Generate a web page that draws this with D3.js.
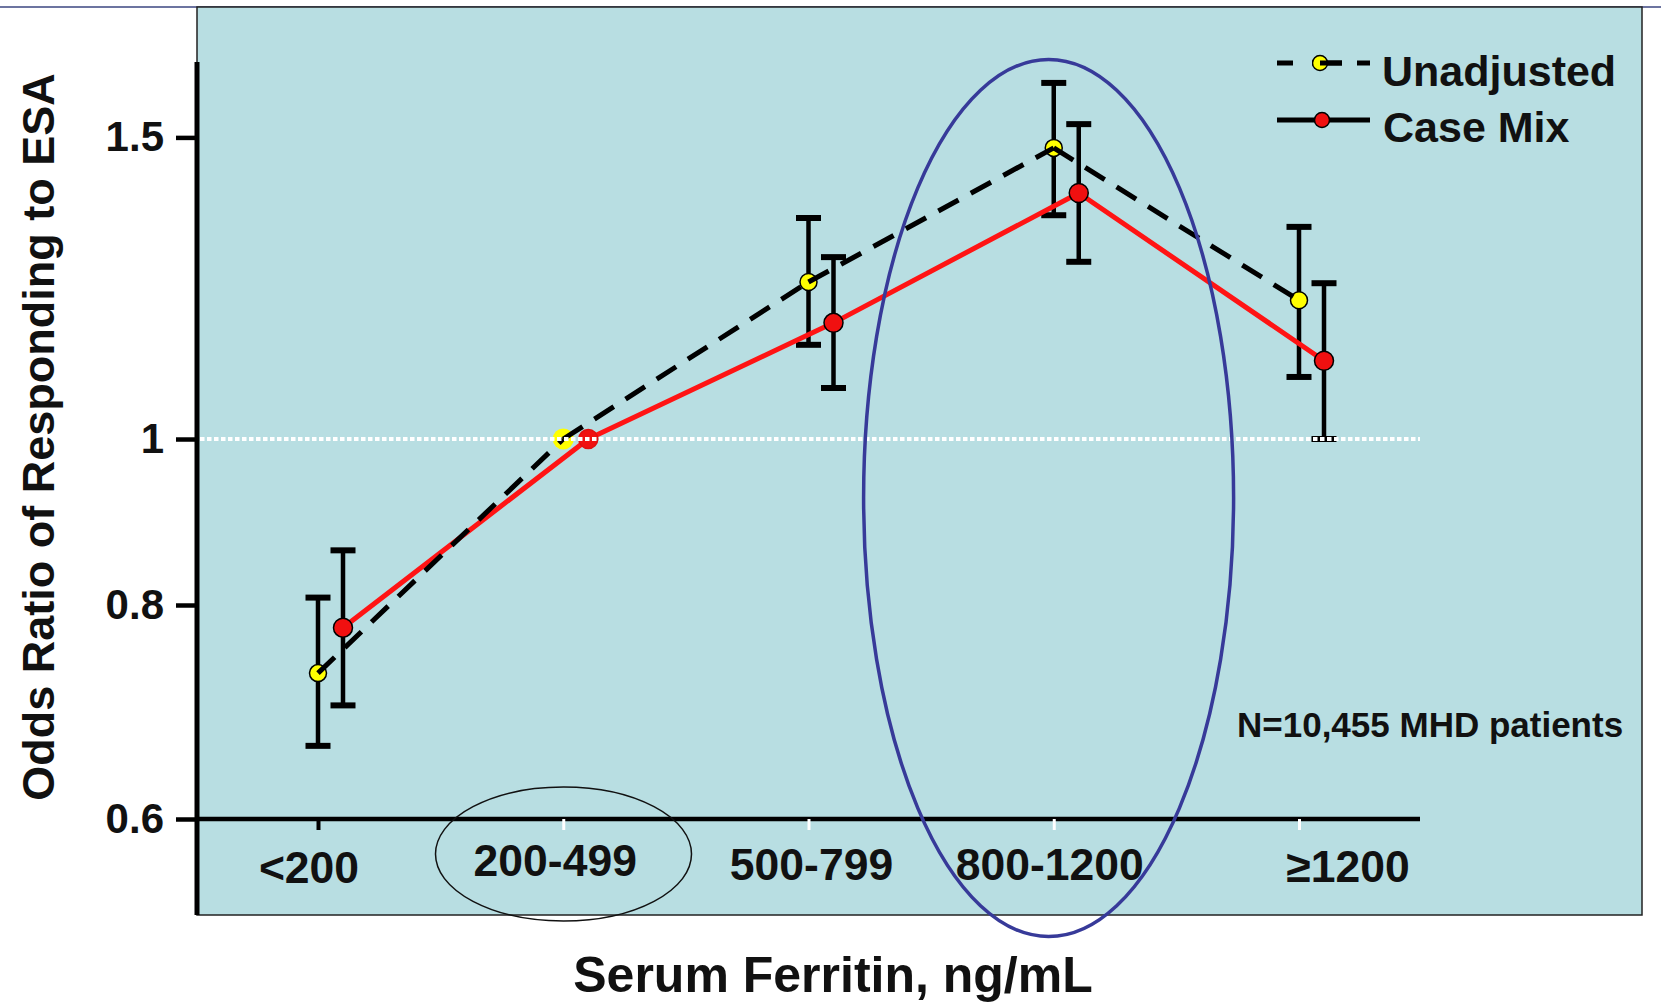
<!DOCTYPE html>
<html>
<head>
<meta charset="utf-8">
<script src="https://cdn.jsdelivr.net/npm/d3@7/dist/d3.min.js"></script>
<style>
  html, body { margin: 0; padding: 0; background: #ffffff; }
  svg { display: block; }
  text { font-family: "Liberation Sans", Arial, Helvetica, sans-serif; font-weight: bold; fill: #111; }
</style>
</head>
<body>
<svg id="chart" width="1661" height="1004"></svg>
<script>
// Ferritin categories and odds ratios (with 95% CI) for ESA response
const categories = ["<200", "200-499", "500-799", "800-1200", "\u22651200"];

const unadjusted     = [0.730, 1.000, 1.235, 1.479, 1.205];
const unadjustedLow  = [0.662, null,  1.135, 1.351, 1.087];
const unadjustedHigh = [0.808, null,  1.346, 1.614, 1.330];

const caseMix     = [0.776, 1.000, 1.169, 1.392, 1.111];
const caseMixLow  = [0.699, null,  1.071, 1.269, 1.000];
const caseMixHigh = [0.861, null,  1.277, 1.527, 1.233];

const referenceIndex = 1;           // 200-499 is the reference group (OR = 1)
const yTickValues = [0.6, 0.8, 1, 1.5];
const yTickLabels = ["0.6", "0.8", "1", "1.5"];

const svg = d3.select("#chart");

// Layout
const panel = { left: 197, top: 7, right: 1642, bottom: 915 };
const axisTop = 62;
const axisRight = 1420;
const panelFill = "#b8dee2";

const x = d3.scalePoint().domain(categories).range([318, 1299]);
const y = d3.scaleLog().domain([0.6, 1.5]).range([819, 137.4]);
const caseShift = 25;

// Top rule across the page
svg.append("line")
  .attr("x1", 0).attr("x2", 1661).attr("y1", panel.top).attr("y2", panel.top)
  .attr("stroke", "#3b4680").attr("stroke-width", 1.5);

// Plot panel
svg.append("rect")
  .attr("x", panel.left).attr("y", panel.top)
  .attr("width", panel.right - panel.left).attr("height", panel.bottom - panel.top)
  .attr("fill", panelFill).attr("stroke", "#222").attr("stroke-width", 1.5);

// Y axis (log scale)
const yAxis = svg.append("g")
  .attr("transform", `translate(${panel.left},0)`)
  .call(d3.axisLeft(y).tickValues(yTickValues)
    .tickFormat((d, i) => yTickLabels[i]).tickSize(21).tickPadding(12));
yAxis.select(".domain").remove();
yAxis.selectAll(".tick line").attr("stroke", "#000").attr("stroke-width", 4.5);
yAxis.selectAll(".tick text")
  .style("font-size", "42px").style("font-family", "'Liberation Sans', Arial, sans-serif")
  .style("font-weight", "bold").attr("fill", "#111");

svg.append("line")
  .attr("x1", panel.left).attr("x2", panel.left)
  .attr("y1", axisTop).attr("y2", panel.bottom)
  .attr("stroke", "#000").attr("stroke-width", 5);

// X axis at OR = 0.6
svg.append("line")
  .attr("x1", panel.left).attr("x2", axisRight)
  .attr("y1", y(0.6)).attr("y2", y(0.6))
  .attr("stroke", "#000").attr("stroke-width", 4.5);

const xAxis = svg.append("g")
  .attr("transform", `translate(0,${y(0.6)})`)
  .call(d3.axisBottom(x).tickSize(11).tickFormat(""));
xAxis.select(".domain").remove();
xAxis.selectAll(".tick line")
  .attr("stroke", (d, i) => i === 0 ? "#000" : "#ffffff")
  .attr("stroke-width", (d, i) => i === 0 ? 4 : 3);

// Category labels, nudged to their printed positions
const labelNudge = { "<200": [-9, 4], "200-499": [-8, -3], "500-799": [3, 1], "800-1200": [-4, 1], "\u22651200": [49, 3] };
svg.append("g").selectAll("text")
  .data(categories)
  .join("text")
  .attr("x", d => x(d) + labelNudge[d][0])
  .attr("y", d => 879 + labelNudge[d][1])
  .attr("text-anchor", "middle")
  .style("font-size", "44.5px")
  .text(d => d);

// Axis titles
svg.append("text")
  .attr("transform", "translate(54,437) rotate(-90)")
  .attr("text-anchor", "middle")
  .style("font-size", "45px")
  .text("Odds Ratio of Responding to ESA");

svg.append("text")
  .attr("x", 833).attr("y", 992)
  .attr("text-anchor", "middle")
  .style("font-size", "50px")
  .text("Serum Ferritin, ng/mL");

// Error bars
function errorBars(low, high, shift) {
  const g = svg.append("g");
  categories.forEach((c, i) => {
    if (low[i] == null) return;
    const cx = x(c) + shift;
    g.append("line").attr("x1", cx).attr("x2", cx)
      .attr("y1", y(high[i])).attr("y2", y(low[i]))
      .attr("stroke", "#000").attr("stroke-width", 4.5);
    [low[i], high[i]].forEach(v => {
      g.append("line").attr("x1", cx - 12.5).attr("x2", cx + 12.5)
        .attr("y1", y(v)).attr("y2", y(v))
        .attr("stroke", "#000").attr("stroke-width", 6);
    });
  });
}
errorBars(unadjustedLow, unadjustedHigh, 0);
errorBars(caseMixLow, caseMixHigh, caseShift);

// Case-mix adjusted series (solid red)
svg.append("path")
  .datum(caseMix)
  .attr("fill", "none").attr("stroke", "#ff1414").attr("stroke-width", 5)
  .attr("stroke-linejoin", "round")
  .attr("d", d3.line().x((d, i) => x(categories[i]) + caseShift).y(d => y(d)));

svg.append("g").selectAll("circle")
  .data(caseMix)
  .join("circle")
  .attr("cx", (d, i) => x(categories[i]) + caseShift)
  .attr("cy", d => y(d))
  .attr("r", 9.5)
  .attr("fill", "#f01010")
  .attr("stroke", (d, i) => i === referenceIndex ? "#e01010" : "#000")
  .attr("stroke-width", 1.5);

// Unadjusted series (yellow markers, dashed black line on top)
svg.append("g").selectAll("circle")
  .data(unadjusted)
  .join("circle")
  .attr("cx", (d, i) => x(categories[i]))
  .attr("cy", d => y(d))
  .attr("r", (d, i) => i === referenceIndex ? 10.5 : 8.5)
  .attr("fill", "#ffff00")
  .attr("stroke", (d, i) => i === referenceIndex ? "none" : "#000")
  .attr("stroke-width", 1.5);

const dashed = svg.append("g");
for (let i = 0; i < unadjusted.length - 1; i++) {
  dashed.append("line")
    .attr("x1", x(categories[i])).attr("y1", y(unadjusted[i]))
    .attr("x2", x(categories[i + 1])).attr("y2", y(unadjusted[i + 1]))
    .attr("stroke", "#000").attr("stroke-width", 5)
    .attr("stroke-dasharray", "23,14");
}

// Reference line at OR = 1
svg.append("line")
  .attr("x1", panel.left + 3).attr("x2", axisRight)
  .attr("y1", y(1)).attr("y2", y(1))
  .attr("stroke", "#ffffff").attr("stroke-width", 4)
  .attr("stroke-dasharray", "4.5,2.5");

// Legend
const legend = svg.append("g");
legend.append("line")
  .attr("x1", 1277).attr("x2", 1370).attr("y1", 63).attr("y2", 63)
  .attr("stroke", "#000").attr("stroke-width", 5);
legend.append("circle").attr("cx", 1320).attr("cy", 63).attr("r", 7.5)
  .attr("fill", "#ffff00").attr("stroke", "#000").attr("stroke-width", 1.5);
legend.append("line")
  .attr("x1", 1320).attr("x2", 1342).attr("y1", 63).attr("y2", 63)
  .attr("stroke", "#000").attr("stroke-width", 5);
// gaps of the dashed sample
[[1293, 1312], [1342, 1357]].forEach(([a, b]) => {
  legend.append("line").attr("x1", a).attr("x2", b).attr("y1", 63).attr("y2", 63)
    .attr("stroke", panelFill).attr("stroke-width", 7);
});
legend.append("text").attr("x", 1382).attr("y", 86)
  .style("font-size", "43px").text("Unadjusted");

legend.append("line")
  .attr("x1", 1277).attr("x2", 1370).attr("y1", 120).attr("y2", 120)
  .attr("stroke", "#000").attr("stroke-width", 5);
legend.append("circle").attr("cx", 1322).attr("cy", 120).attr("r", 7.5)
  .attr("fill", "#f01010").attr("stroke", "#000").attr("stroke-width", 1.5);
legend.append("text").attr("x", 1383).attr("y", 142)
  .style("font-size", "43px").text("Case Mix");

// Sample size note
svg.append("text")
  .attr("x", 1237).attr("y", 737)
  .style("font-size", "35px")
  .text("N=10,455 MHD patients");

// Highlight ellipses
svg.append("ellipse")
  .attr("cx", 1048.6).attr("cy", 498).attr("rx", 185).attr("ry", 438.5)
  .attr("fill", "none").attr("stroke", "#373a99").attr("stroke-width", 3.5);

svg.append("ellipse")
  .attr("cx", 563.5).attr("cy", 854).attr("rx", 128).attr("ry", 67)
  .attr("fill", "none").attr("stroke", "#111").attr("stroke-width", 1.5);
</script>
</body>
</html>
